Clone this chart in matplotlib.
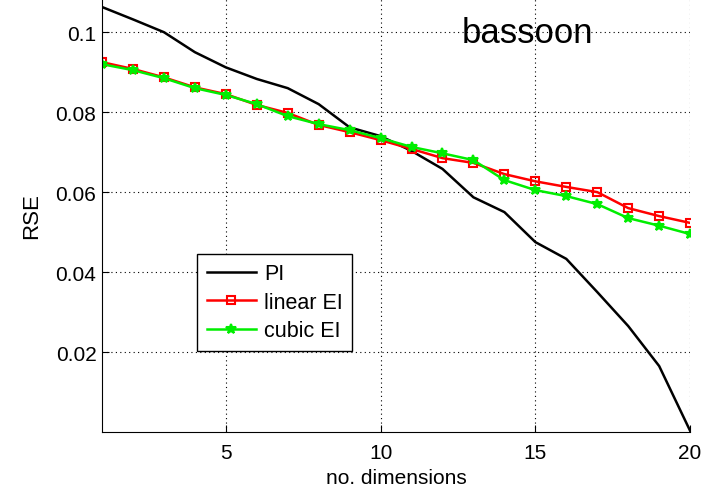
import matplotlib
matplotlib.use("Agg")
import matplotlib.pyplot as plt

plt.rcParams['font.family'] = ['Liberation Sans', 'DejaVu Sans']

dims = list(range(1, 21))

rse_pi = [0.1063, 0.1032, 0.1000, 0.0950, 0.0912, 0.0883, 0.0860, 0.0820, 0.0762, 0.0740,
          0.0703, 0.0658, 0.0587, 0.0550, 0.0475, 0.0433, 0.0350, 0.0265, 0.0165, 0.0003]
rse_linear = [0.0925, 0.0908, 0.0887, 0.0862, 0.0845, 0.0818, 0.0798, 0.0768, 0.0750, 0.0730,
              0.0708, 0.0685, 0.0673, 0.0645, 0.0627, 0.0613, 0.0600, 0.0560, 0.0540, 0.0523]
rse_cubic = [0.0920, 0.0905, 0.0885, 0.0860, 0.0843, 0.0820, 0.0790, 0.0770, 0.0755, 0.0735,
             0.0713, 0.0697, 0.0680, 0.0630, 0.0605, 0.0590, 0.0570, 0.0535, 0.0516, 0.0495]

fig = plt.figure(figsize=(7.06, 4.89), dpi=100)
ax = fig.add_axes([0.1445, 0.1145, 0.833, 0.8855])

ax.plot(dims, rse_pi, color='black', lw=1.8, label='PI')
ax.plot(dims, rse_linear, color='red', lw=1.8, marker='s', ms=6, mfc='none',
        mec='red', mew=1.5, label='linear EI')
ax.plot(dims, rse_cubic, color='#00ee00', lw=1.8, marker='*', ms=7,
        mec='#00ee00', mew=1.5, label='cubic EI')

ax.set_xlim(1, 20)
ax.set_ylim(0, 0.1083)
ax.set_xticks([5, 10, 15, 20])
ax.set_yticks([0.02, 0.04, 0.06, 0.08, 0.1])
ax.set_yticklabels(['0.02', '0.04', '0.06', '0.08', '0.1'])
ax.tick_params(direction='in', labelsize=15, length=5)
ax.tick_params(axis='x', pad=8)
ax.tick_params(axis='y', pad=4)
ax.grid(True, linestyle=(0, (1, 3)), color='black', lw=0.8)
ax.spines['top'].set_visible(False)
ax.spines['right'].set_visible(False)

ax.set_xlabel('no. dimensions', fontsize=15, labelpad=4)
ax.set_ylabel('RSE', fontsize=16, labelpad=10)
ax.text(0.612, 0.9007, 'bassoon', transform=ax.transAxes, fontsize=25,
        va='baseline')

leg = ax.legend(loc='lower left', bbox_to_anchor=(0.1616, 0.187), fontsize=15.5,
                fancybox=False, framealpha=1, edgecolor='black',
                borderaxespad=0, handlelength=2.3, handletextpad=0.35,
                borderpad=0.45, labelspacing=0.35)
leg.get_frame().set_linewidth(1.0)

fig.savefig('out.png', dpi=100)
